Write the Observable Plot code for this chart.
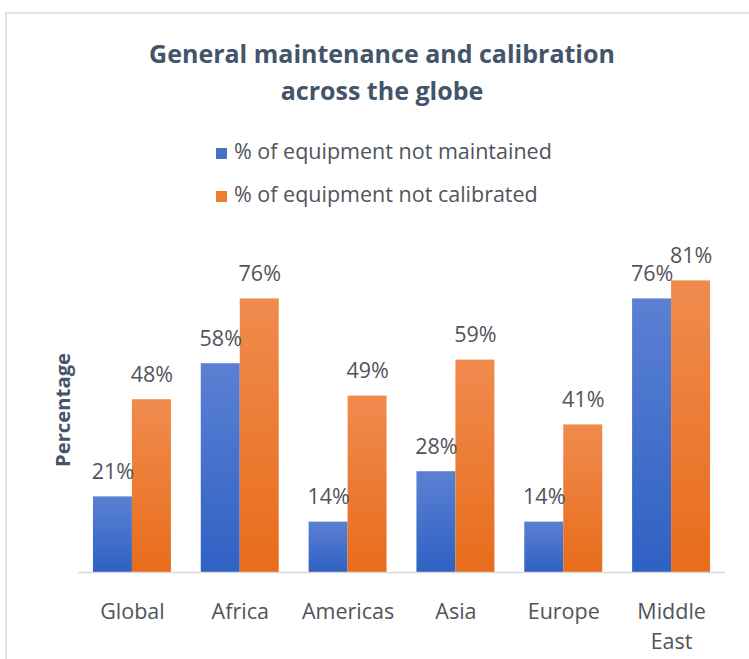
<!DOCTYPE html>
<html>
<head>
<meta charset="utf-8">
<script src="https://cdn.jsdelivr.net/npm/d3@7"></script>
<script src="https://cdn.jsdelivr.net/npm/@observablehq/plot@0.6"></script>
<style>
  html, body { margin: 0; padding: 0; background: #fff; }
  #wrap { position: relative; width: 749px; height: 659px; overflow: hidden; font-family: "Open Sans", sans-serif; }
  #frame { position: absolute; left: 5px; top: 12px; width: 760px; height: 700px; border-top: 2px solid #e4e4e4; border-left: 2px solid #e4e4e4; box-sizing: border-box; }
  #title { position: absolute; left: 15px; width: 734px; top: 35.1px; text-align: center; font-weight: 700; font-size: 25px; line-height: 37px; color: #44546a; }
  .leg { position: absolute; left: 216px; font-size: 21.5px; line-height: 28px; color: #50545b; white-space: nowrap; }
  .leg span.sw { display: inline-block; width: 11px; height: 11px; margin-right: 7px; vertical-align: 0px; }
  #ylab { position: absolute; left: 61.7px; top: 410px; transform: translate(-50%, -50%) rotate(-90deg); font-weight: 700; font-size: 20.3px; color: #44546a; white-space: nowrap; }
  #chart { position: absolute; left: 0; top: 230px; }
</style>
</head>
<body>
<div id="wrap">
  <div id="frame"></div>
  <div id="title">General maintenance and calibration<br>across the globe</div>
  <div id="legend"></div>
  <div id="ylab">Percentage</div>
  <div id="chart"></div>
</div>
<script>
const regions = ["Global", "Africa", "Americas", "Asia", "Europe", "Middle East"];
const seriesNames = ["% of equipment not maintained", "% of equipment not calibrated"];
const notMaintained = [21, 58, 14, 28, 14, 76];
const notCalibrated = [48, 76, 49, 59, 41, 81];
const seriesColors = ["#4472c4", "#ed7d31"];
const gradients = [["#5b80d3", "#2f61c3"], ["#f08b4e", "#e86c1b"]];

const data = [];
regions.forEach((r, i) => {
  data.push({region: r, series: seriesNames[0], value: notMaintained[i]});
  data.push({region: r, series: seriesNames[1], value: notCalibrated[i]});
});

// legend
const legend = document.getElementById("legend");
const legTops = [136.7, 179.7];
seriesNames.forEach((s, i) => {
  const d = document.createElement("div");
  d.className = "leg";
  d.style.top = legTops[i] + "px";
  d.innerHTML = `<span class="sw" style="background:${seriesColors[i]}"></span>${s}`;
  legend.appendChild(d);
});

const gradIds = ["gradBlue", "gradOrange"];

const chart = Plot.plot({
  width: 749,
  height: 429,
  marginLeft: 78,
  marginRight: 24,
  marginTop: 18,
  marginBottom: 87,
  style: {fontFamily: "Open Sans, sans-serif", background: "transparent", overflow: "visible"},
  fx: {domain: regions, paddingInner: 0.277, paddingOuter: 0.1385, round: false, axis: null, label: null},
  x: {domain: seriesNames, padding: 0, round: false, axis: null},
  y: {domain: [0, 90], axis: null},
  color: {domain: seriesNames, range: gradIds.map(id => `url(#${id})`)},
  marks: [
    Plot.barY(data, {fx: "region", x: "series", y: "value", fill: "series"}),
    Plot.ruleY([0], {stroke: "#d9d9d9", strokeWidth: 1.5, insetLeft: -15, insetRight: -15}),
    Plot.text(data, {fx: "region", x: "series", y: "value", text: d => d.value + "%", lineAnchor: "bottom", dy: -18, fontSize: 21.5, fill: "#50545b"}),
    Plot.text(regions, {fx: d => d, text: d => d.replace(" ", "\n"), frameAnchor: "bottom", lineAnchor: "top", dy: 26, lineHeight: 1.36, fontSize: 21.5, fill: "#50545b"})
  ]
});

const defs = d3.select(chart).insert("defs", ":first-child");
gradIds.forEach((id, i) => {
  const g = defs.append("linearGradient").attr("id", id).attr("x1", 0).attr("y1", 0).attr("x2", 0).attr("y2", 1);
  g.append("stop").attr("offset", "0%").attr("stop-color", gradients[i][0]);
  g.append("stop").attr("offset", "100%").attr("stop-color", gradients[i][1]);
});

document.getElementById("chart").appendChild(chart);
</script>
</body>
</html>
